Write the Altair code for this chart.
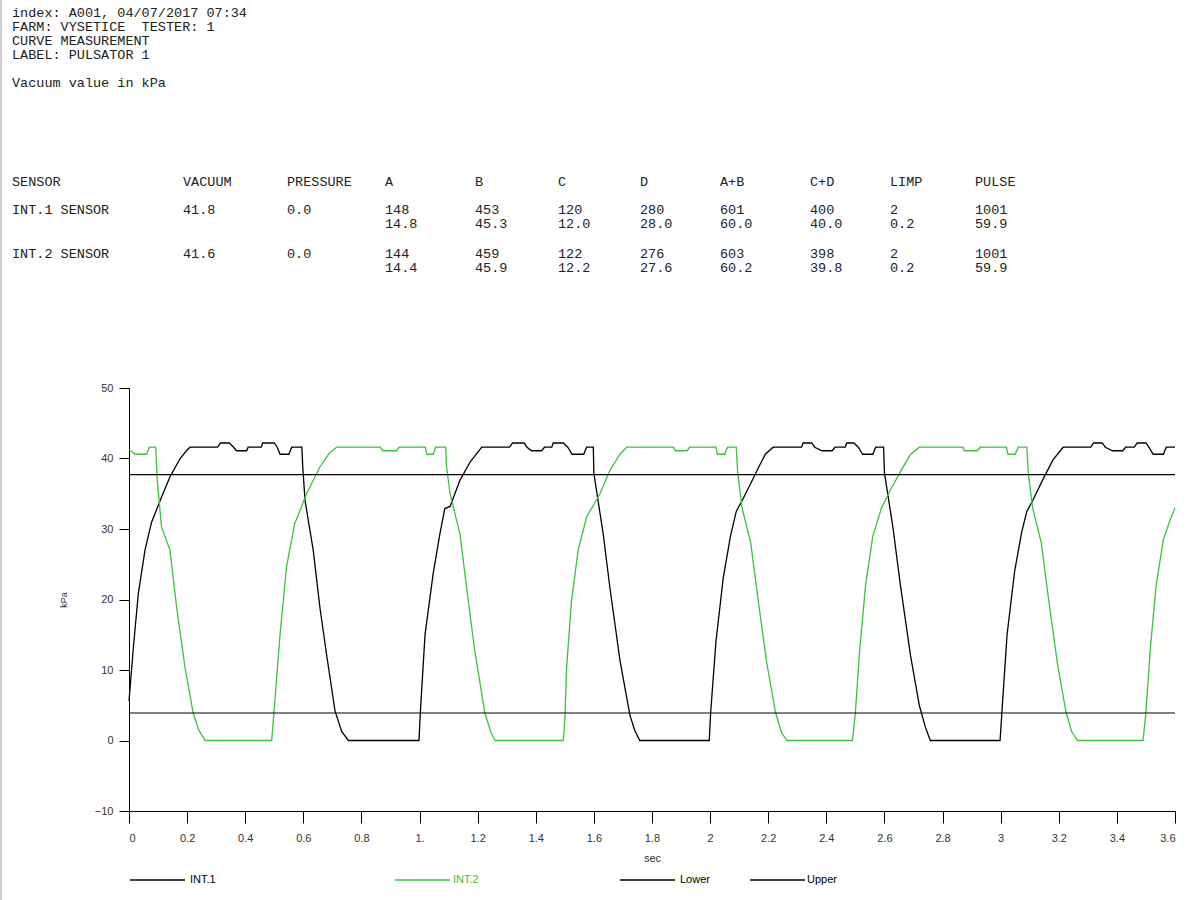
import altair as alt
import pandas as pd

# ---------------- data ----------------
HEADER_LINES = [
    "index: A001, 04/07/2017 07:34",
    "FARM: VYSETICE\u00a0\u00a0TESTER: 1",
    "CURVE MEASUREMENT",
    "LABEL: PULSATOR 1",
    "Vacuum value in kPa",
]
TABLE_COLUMNS = ["SENSOR", "VACUUM", "PRESSURE", "A", "B", "C", "D", "A+B", "C+D", "LIMP", "PULSE"]
ROW1_MAIN = ["INT.1 SENSOR", "41.8", "0.0", "148", "453", "120", "280", "601", "400", "2", "1001"]
ROW1_PCT = ["", "", "", "14.8", "45.3", "12.0", "28.0", "60.0", "40.0", "0.2", "59.9"]
ROW2_MAIN = ["INT.2 SENSOR", "41.6", "0.0", "144", "459", "122", "276", "603", "398", "2", "1001"]
ROW2_PCT = ["", "", "", "14.4", "45.9", "12.2", "27.6", "60.2", "39.8", "0.2", "59.9"]

INT1_T = [0.000, 0.015, 0.032, 0.055, 0.078, 0.107, 0.141, 0.176, 0.200, 0.210, 0.305, 0.315, 0.345, 0.360,
          0.370, 0.405, 0.410, 0.455, 0.460, 0.500, 0.510, 0.520, 0.550, 0.560, 0.595,
          0.598, 0.606, 0.634, 0.657, 0.680, 0.709, 0.732, 0.755, 0.993,
          0.998, 1.003, 1.019, 1.047, 1.070, 1.087, 1.105, 1.139, 1.174, 1.214, 1.310, 1.320, 1.360, 1.370,
          1.385, 1.420, 1.430, 1.455, 1.460, 1.495, 1.510, 1.525, 1.565, 1.575, 1.598,
          1.600, 1.632, 1.655, 1.690, 1.724, 1.740, 1.758, 1.993,
          1.997, 2.002, 2.020, 2.045, 2.070, 2.090, 2.110, 2.140, 2.170, 2.190, 2.217, 2.315, 2.320, 2.350,
          2.360, 2.385, 2.420, 2.430, 2.465, 2.470, 2.495, 2.510, 2.525, 2.560, 2.570, 2.597,
          2.600, 2.630, 2.655, 2.690, 2.720, 2.740, 2.758, 2.995,
          2.998, 3.005, 3.022, 3.048, 3.072, 3.090, 3.110, 3.145, 3.180, 3.215, 3.310, 3.320, 3.350, 3.360,
          3.385, 3.420, 3.430, 3.460, 3.470, 3.500, 3.510, 3.525, 3.560, 3.570, 3.600]
INT1_V = [5.6, 13.2, 20.8, 27.0, 31.0, 34.0, 37.4, 40.0, 41.2, 41.6, 41.6, 42.2, 42.2, 41.6,
          41.1, 41.1, 41.6, 41.6, 42.2, 42.2, 41.6, 40.6, 40.6, 41.6, 41.6,
          38.8, 34.0, 27.0, 18.9, 12.2, 4.2, 1.3, 0.0, 0.0,
          0.0, 4.2, 15.1, 23.7, 29.3, 32.9, 33.2, 36.9, 39.5, 41.6, 41.6, 42.2, 42.2, 41.6,
          41.1, 41.1, 41.6, 41.6, 42.2, 42.2, 41.6, 40.6, 40.6, 41.6, 41.6,
          37.9, 29.3, 21.7, 11.3, 3.6, 1.5, 0.0, 0.0,
          0.0, 4.0, 14.0, 23.0, 29.0, 32.5, 34.0, 36.5, 39.0, 40.6, 41.6, 41.6, 42.2, 42.2,
          41.6, 41.1, 41.1, 41.6, 41.6, 42.2, 42.2, 41.6, 40.6, 40.6, 41.6, 41.6,
          38.0, 30.0, 22.0, 12.0, 5.0, 2.0, 0.0, 0.0,
          0.0, 4.5, 15.0, 24.0, 29.5, 32.5, 34.0, 37.0, 39.8, 41.6, 41.6, 42.2, 42.2, 41.6,
          41.1, 41.1, 41.6, 41.6, 42.2, 42.2, 41.6, 40.6, 40.6, 41.6, 41.6]

INT2_T = [0.000, 0.010, 0.020, 0.060, 0.070, 0.092, 0.097, 0.112, 0.141, 0.164, 0.193, 0.221, 0.240, 0.262, 0.491,
          0.502, 0.520, 0.542, 0.570, 0.611, 0.657, 0.690, 0.715, 0.864, 0.874, 0.920, 0.930, 1.020, 1.025,
          1.047, 1.055, 1.090,
          1.093, 1.105, 1.139, 1.162, 1.190, 1.225, 1.245, 1.260, 1.495,
          1.500, 1.506, 1.523, 1.546, 1.575, 1.621, 1.655, 1.690, 1.713, 1.874, 1.880, 1.920, 1.930, 2.020,
          2.025, 2.050, 2.060, 2.090,
          2.095, 2.110, 2.140, 2.165, 2.195, 2.225, 2.245, 2.264, 2.490,
          2.500, 2.515, 2.535, 2.560, 2.590, 2.620, 2.660, 2.690, 2.720, 2.870, 2.875, 2.920, 2.930, 3.020,
          3.025, 3.050, 3.060, 3.090,
          3.095, 3.110, 3.140, 3.165, 3.195, 3.225, 3.245, 3.265, 3.490,
          3.500, 3.515, 3.535, 3.560, 3.585, 3.600]
INT2_V = [41.2, 41.0, 40.6, 40.6, 41.6, 41.6, 37.0, 30.3, 27.0, 18.9, 10.3, 3.9, 1.5, 0.0, 0.0,
          5.6, 15.1, 24.6, 30.7, 35.0, 38.8, 40.8, 41.6, 41.6, 41.1, 41.1, 41.6, 41.6, 40.6,
          40.6, 41.6, 41.6,
          38.8, 35.0, 29.3, 21.7, 12.7, 3.9, 1.2, 0.0, 0.0,
          3.0, 10.3, 19.8, 27.0, 31.7, 35.0, 38.3, 40.6, 41.6, 41.6, 41.1, 41.1, 41.6, 41.6,
          40.6, 40.6, 41.6, 41.6,
          38.0, 33.0, 28.0, 20.0, 11.0, 4.0, 1.2, 0.0, 0.0,
          4.0, 13.0, 22.0, 29.0, 33.0, 35.5, 38.5, 40.6, 41.6, 41.6, 41.1, 41.1, 41.6, 41.6,
          40.6, 40.6, 41.6, 41.6,
          38.0, 33.0, 28.0, 20.0, 11.0, 4.0, 1.2, 0.0, 0.0,
          4.0, 13.0, 22.0, 28.5, 31.5, 33.0]

LIMIT_NAMES = ["Lower", "Upper"]
LIMIT_VALUES = [3.9, 37.7]

X_TICKS = [0, 0.2, 0.4, 0.6, 0.8, 1.0, 1.2, 1.4, 1.6, 1.8, 2.0, 2.2, 2.4, 2.6, 2.8, 3.0, 3.2, 3.4, 3.6]
X_TICK_LABELS = ["0", "0.2", "0.4", "0.6", "0.8", "1.", "1.2", "1.4", "1.6", "1.8", "2",
                 "2.2", "2.4", "2.6", "2.8", "3", "3.2", "3.4", "3.6"]
Y_TICKS = [-10, 0, 10, 20, 30, 40, 50]

LEGEND_NAMES = ["INT.1", "INT.2", "Lower", "Upper"]
SERIES_COLORS = {"INT.1": "#000000", "INT.2": "#3cc23c", "Lower": "#000000", "Upper": "#000000"}

# ---------------- layout (pixels) ----------------
PLOT_LEFT, PLOT_TOP, PLOT_W, PLOT_H = 129, 388, 1046, 423
HEADER_X = 12
HEADER_Y = [13, 27, 41, 55, 83]
COL_X = [12, 183, 287, 385, 475, 558, 640, 720, 810, 890, 975]
TABLE_Y = [182, 210, 224, 254, 268]
LEGEND_LINE_X = [(130, 185), (395, 450), (620, 675), (750, 805)]
LEGEND_TEXT_X = [190, 453, 680, 807]
LEGEND_Y = 880
MONO = "Liberation Mono"
SANS = "Liberation Sans"

# ---------------- tables ----------------
curves = pd.concat([
    pd.DataFrame({"t": INT1_T, "v": INT1_V, "series": "INT.1", "order": range(len(INT1_T))}),
    pd.DataFrame({"t": INT2_T, "v": INT2_V, "series": "INT.2", "order": range(len(INT2_T))}),
])
limits = pd.DataFrame({"name": LIMIT_NAMES, "v": LIMIT_VALUES})

text_rows = []
for i, line in enumerate(HEADER_LINES):
    text_rows.append({"px": HEADER_X - PLOT_LEFT, "py": HEADER_Y[i] - PLOT_TOP, "text": line})
for r, row in enumerate([TABLE_COLUMNS, ROW1_MAIN, ROW1_PCT, ROW2_MAIN, ROW2_PCT]):
    for c, val in enumerate(row):
        if val:
            text_rows.append({"px": COL_X[c] - PLOT_LEFT, "py": TABLE_Y[r] - PLOT_TOP, "text": val})
texts = pd.DataFrame(text_rows)

leg_lines = pd.DataFrame({
    "x1": [a - PLOT_LEFT for a, b in LEGEND_LINE_X],
    "x2": [b - PLOT_LEFT for a, b in LEGEND_LINE_X],
    "py": [LEGEND_Y - PLOT_TOP] * 4,
    "col": [SERIES_COLORS[n] for n in LEGEND_NAMES],
})
leg_texts = pd.DataFrame({
    "px": [x - PLOT_LEFT for x in LEGEND_TEXT_X],
    "py": [LEGEND_Y - PLOT_TOP] * 4,
    "text": LEGEND_NAMES,
    "col": [SERIES_COLORS[n] for n in LEGEND_NAMES],
})

# ---------------- chart ----------------
label_expr = "%s[round(datum.value * 5)]" % str(X_TICK_LABELS).replace("'", '"')

x_enc = alt.X("t:Q", title="sec",
              scale=alt.Scale(domain=[0, 3.6], nice=False, zero=False),
              axis=alt.Axis(values=X_TICKS, labelExpr=label_expr, grid=False,
                            domainColor="#000", tickColor="#000", tickSize=12,
                            labelPadding=9, labelFont=SANS, labelFontSize=11, labelColor="#333",
                            titleFont=SANS, titleFontSize=11, titleFontWeight="normal",
                            titleColor="#333", titlePadding=9))
y_enc = alt.Y("v:Q", title="kPa",
              scale=alt.Scale(domain=[-10, 50], nice=False, zero=False),
              axis=alt.Axis(values=Y_TICKS, grid=False, domainColor="#000", tickColor="#000",
                            tickSize=10, labelPadding=6, labelFont=SANS, labelFontSize=11,
                            labelColor="#333", titleFont=SANS, titleFontSize=9,
                            titleFontWeight="normal", titleColor="#333",
                            titleAngle=270, titleX=-66, titleY=PLOT_H / 2,
                            titleAlign="center", titleBaseline="middle"))

lines = alt.Chart(curves).mark_line(strokeWidth=1.3).encode(
    x=x_enc, y=y_enc,
    color=alt.Color("series:N", scale=alt.Scale(domain=["INT.1", "INT.2"],
                                                range=[SERIES_COLORS["INT.1"], SERIES_COLORS["INT.2"]]),
                    legend=None),
    order="order:Q",
)

limit_rules = alt.Chart(limits).mark_rule(color="#000", strokeWidth=1.2).encode(
    y=alt.Y("v:Q"),
)

txt = alt.Chart(texts).mark_text(font=MONO, fontSize=13.5, align="left", baseline="middle",
                                 color="#222").encode(
    x=alt.X("px:Q", scale=None, axis=None),
    y=alt.Y("py:Q", scale=None, axis=None),
    text="text:N",
)

leg_rule = alt.Chart(leg_lines).mark_rule(strokeWidth=1.3).encode(
    x=alt.X("x1:Q", scale=None, axis=None),
    x2="x2:Q",
    y=alt.Y("py:Q", scale=None, axis=None),
    color=alt.Color("col:N", scale=None),
)
leg_txt = alt.Chart(leg_texts).mark_text(font=SANS, fontSize=11, align="left", baseline="middle").encode(
    x=alt.X("px:Q", scale=None, axis=None),
    y=alt.Y("py:Q", scale=None, axis=None),
    text="text:N",
    color=alt.Color("col:N", scale=None),
)

edge = alt.Chart(limits).mark_rule(color="#d0d0d0", strokeWidth=2).encode(
    x=alt.value(-PLOT_LEFT + 1), y=alt.value(-PLOT_TOP), y2=alt.value(900 - PLOT_TOP),
)

chart = alt.layer(lines, limit_rules, txt, leg_rule, leg_txt, edge).properties(
    width=PLOT_W, height=PLOT_H,
    autosize=alt.AutoSizeParams(type="none"),
    padding={"left": PLOT_LEFT, "top": PLOT_TOP, "right": 1191 - PLOT_LEFT - PLOT_W,
             "bottom": 900 - PLOT_TOP - PLOT_H},
    background="white",
).configure_view(stroke=None)

chart.save("out.html", embed_options={"renderer": "svg", "actions": False})
